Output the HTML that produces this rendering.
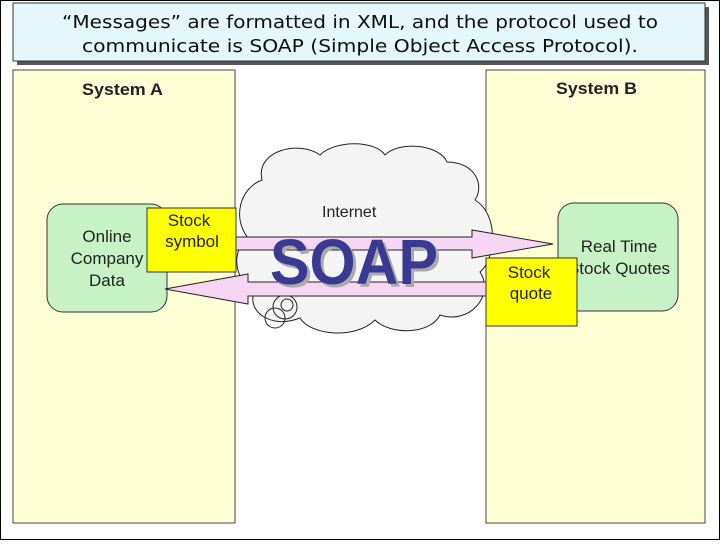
<!DOCTYPE html>
<html><head><style>
body{margin:0;width:720px;height:540px;background:#fff;overflow:hidden;font-family:"Liberation Sans",sans-serif}
</style></head><body>
<svg width="720" height="540" xmlns="http://www.w3.org/2000/svg" font-family="Liberation Sans, sans-serif">
<rect x="0.5" y="0.5" width="719" height="539" fill="#fff" stroke="#000"/>
<rect x="17" y="7" width="692" height="58" fill="#555"/>
<rect x="13" y="3" width="692" height="58" fill="#e4f7fb" stroke="#333"/>
<text x="62" y="28" font-family="DejaVu Sans, sans-serif" font-size="18" textLength="596" lengthAdjust="spacingAndGlyphs" fill="#111">“Messages” are formatted in XML, and the protocol used to</text>
<text x="82" y="52" font-family="DejaVu Sans, sans-serif" font-size="18" textLength="556" lengthAdjust="spacingAndGlyphs" fill="#111">communicate is SOAP (Simple Object Access Protocol).</text>
<rect x="13" y="70" width="222" height="453" fill="#ffffd6" stroke="#444"/>
<rect x="486" y="70" width="219" height="453" fill="#ffffd6" stroke="#444"/>
<text x="82" y="95" font-size="17" font-weight="bold" fill="#222" textLength="81" lengthAdjust="spacingAndGlyphs">System A</text>
<text x="556" y="94" font-size="17" font-weight="bold" fill="#222" textLength="81" lengthAdjust="spacingAndGlyphs">System B</text>
<path d="M262 180 C255 150 300 140 320 155 C335 140 375 140 385 155 C400 140 440 145 447 162 C475 162 485 185 475 200 C500 215 495 260 480 272 C495 295 470 325 440 315 C430 335 390 335 375 320 C355 340 310 335 300 318 C270 330 245 310 255 290 C232 280 232 248 248 238 C232 218 240 188 262 180 Z" fill="#f4f4f4" stroke="#222"/>
<circle cx="285" cy="307" r="12" fill="none" stroke="#222"/><circle cx="287" cy="305" r="6" fill="none" stroke="#222"/><circle cx="275" cy="318" r="10" fill="none" stroke="#222"/>
<text x="322" y="217" font-size="16" fill="#222">Internet</text>
<rect x="47" y="204" width="120" height="108" rx="16" fill="#c6f2c6" stroke="#333"/>
<text x="107" y="242" font-size="17" text-anchor="middle" fill="#222">Online</text>
<text x="107" y="264" font-size="17" text-anchor="middle" fill="#222">Company</text>
<text x="107" y="286" font-size="17" text-anchor="middle" fill="#222">Data</text>
<rect x="558" y="203" width="120" height="108" rx="16" fill="#c6f2c6" stroke="#333"/>
<text x="619" y="252" font-size="17" text-anchor="middle" fill="#222">Real Time</text>
<text x="619" y="274" font-size="17" text-anchor="middle" fill="#222">Stock Quotes</text>
<path d="M232 237 L472 237 L472 230 L553 244 L472 258 L472 250 L232 250 Z" fill="#f6d6f2" stroke="#222"/>
<path d="M486 282 L248 282 L248 274 L165 289 L248 304 L248 296 L486 296 Z" fill="#f6d6f2" stroke="#222"/>
<text x="273" y="287" font-size="64" font-weight="bold" fill="#aaa" textLength="168" lengthAdjust="spacingAndGlyphs">SOAP</text>
<text x="270" y="284" font-size="64" font-weight="bold" fill="#3a3a92" textLength="168" lengthAdjust="spacingAndGlyphs">SOAP</text>
<rect x="147" y="208" width="89" height="64" fill="#ffff00" stroke="#333"/>
<text x="189" y="226" font-size="17" text-anchor="middle" fill="#222">Stock</text>
<text x="192" y="247" font-size="17" text-anchor="middle" fill="#222">symbol</text>
<rect x="486" y="258" width="91" height="68" fill="#ffff00" stroke="#333"/>
<text x="529" y="278" font-size="17" text-anchor="middle" fill="#222">Stock</text>
<text x="531" y="299" font-size="17" text-anchor="middle" fill="#222">quote</text>
</svg>
</body></html>
